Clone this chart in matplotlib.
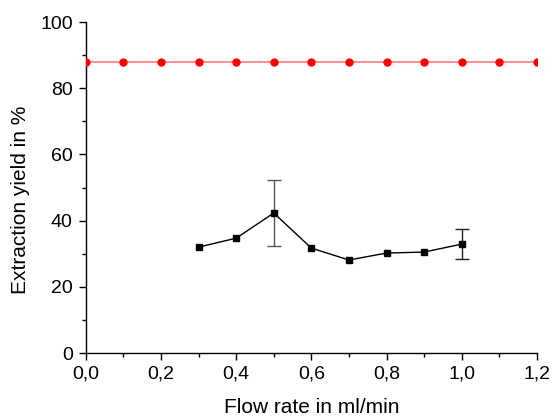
import matplotlib
matplotlib.use("Agg")
import matplotlib.pyplot as plt
from matplotlib.ticker import MultipleLocator, FuncFormatter

plt.rcParams['font.family'] = ['Liberation Sans', 'DejaVu Sans']

ref_x = [0.0, 0.1, 0.2, 0.3, 0.4, 0.5, 0.6, 0.7, 0.8, 0.9, 1.0, 1.1, 1.2]
ref_y = [88.0] * 13

flow = [0.3, 0.4, 0.5, 0.6, 0.7, 0.8, 0.9, 1.0]
yield_ = [32.0, 34.7, 42.3, 31.7, 28.1, 30.2, 30.5, 32.9]
err = [0, 0, 10.1, 0, 0, 0, 0, 4.6]

fig = plt.figure(figsize=(5.54, 4.16), dpi=100)
ax = fig.add_axes([0.155, 0.1514, 0.814, 0.7956])

ax.plot(ref_x, ref_y, color='#ff7a7a', lw=1.2, zorder=2)
ax.plot(ref_x, ref_y, 'o', color='red', ms=5, clip_on=True, zorder=3)

ax.plot(flow, yield_, '-', color='black', lw=1.0, zorder=2)
ax.errorbar([flow[2]], [yield_[2]], yerr=[err[2]],
            fmt='none', ecolor='#555555', elinewidth=1.0, capsize=5, capthick=1.0, zorder=2)
ax.errorbar([flow[7]], [yield_[7]], yerr=[err[7]],
            fmt='none', ecolor='#222222', elinewidth=1.0, capsize=5, capthick=1.0, zorder=2)
ax.plot(flow, yield_, 's', color='black', ms=5, zorder=4)

ax.set_xlim(0, 1.2)
ax.set_ylim(0, 100)
ax.xaxis.set_major_locator(MultipleLocator(0.2))
ax.xaxis.set_minor_locator(MultipleLocator(0.1))
ax.yaxis.set_major_locator(MultipleLocator(20))
ax.yaxis.set_minor_locator(MultipleLocator(10))
ax.xaxis.set_major_formatter(FuncFormatter(lambda v, p: f"{v:.1f}".replace('.', ',')))
ax.yaxis.set_major_formatter(FuncFormatter(lambda v, p: f"{v:.0f}"))

for s in ['top', 'right']:
    ax.spines[s].set_visible(False)
for s in ['left', 'bottom']:
    ax.spines[s].set_linewidth(1.0)

ax.tick_params(which='major', direction='out', length=5, width=1.0, labelsize=14)
ax.tick_params(axis='x', which='major', pad=4)
ax.tick_params(axis='y', which='major', pad=4.5)
ax.tick_params(which='minor', direction='out', length=3, width=1.0)

ax.set_xlabel('Flow rate in ml/min', fontsize=15, labelpad=11)
ax.set_ylabel('Extraction yield in %', fontsize=15)
ax.yaxis.set_label_coords(-0.125, 0.462)

fig.savefig('out.png', dpi=100)
